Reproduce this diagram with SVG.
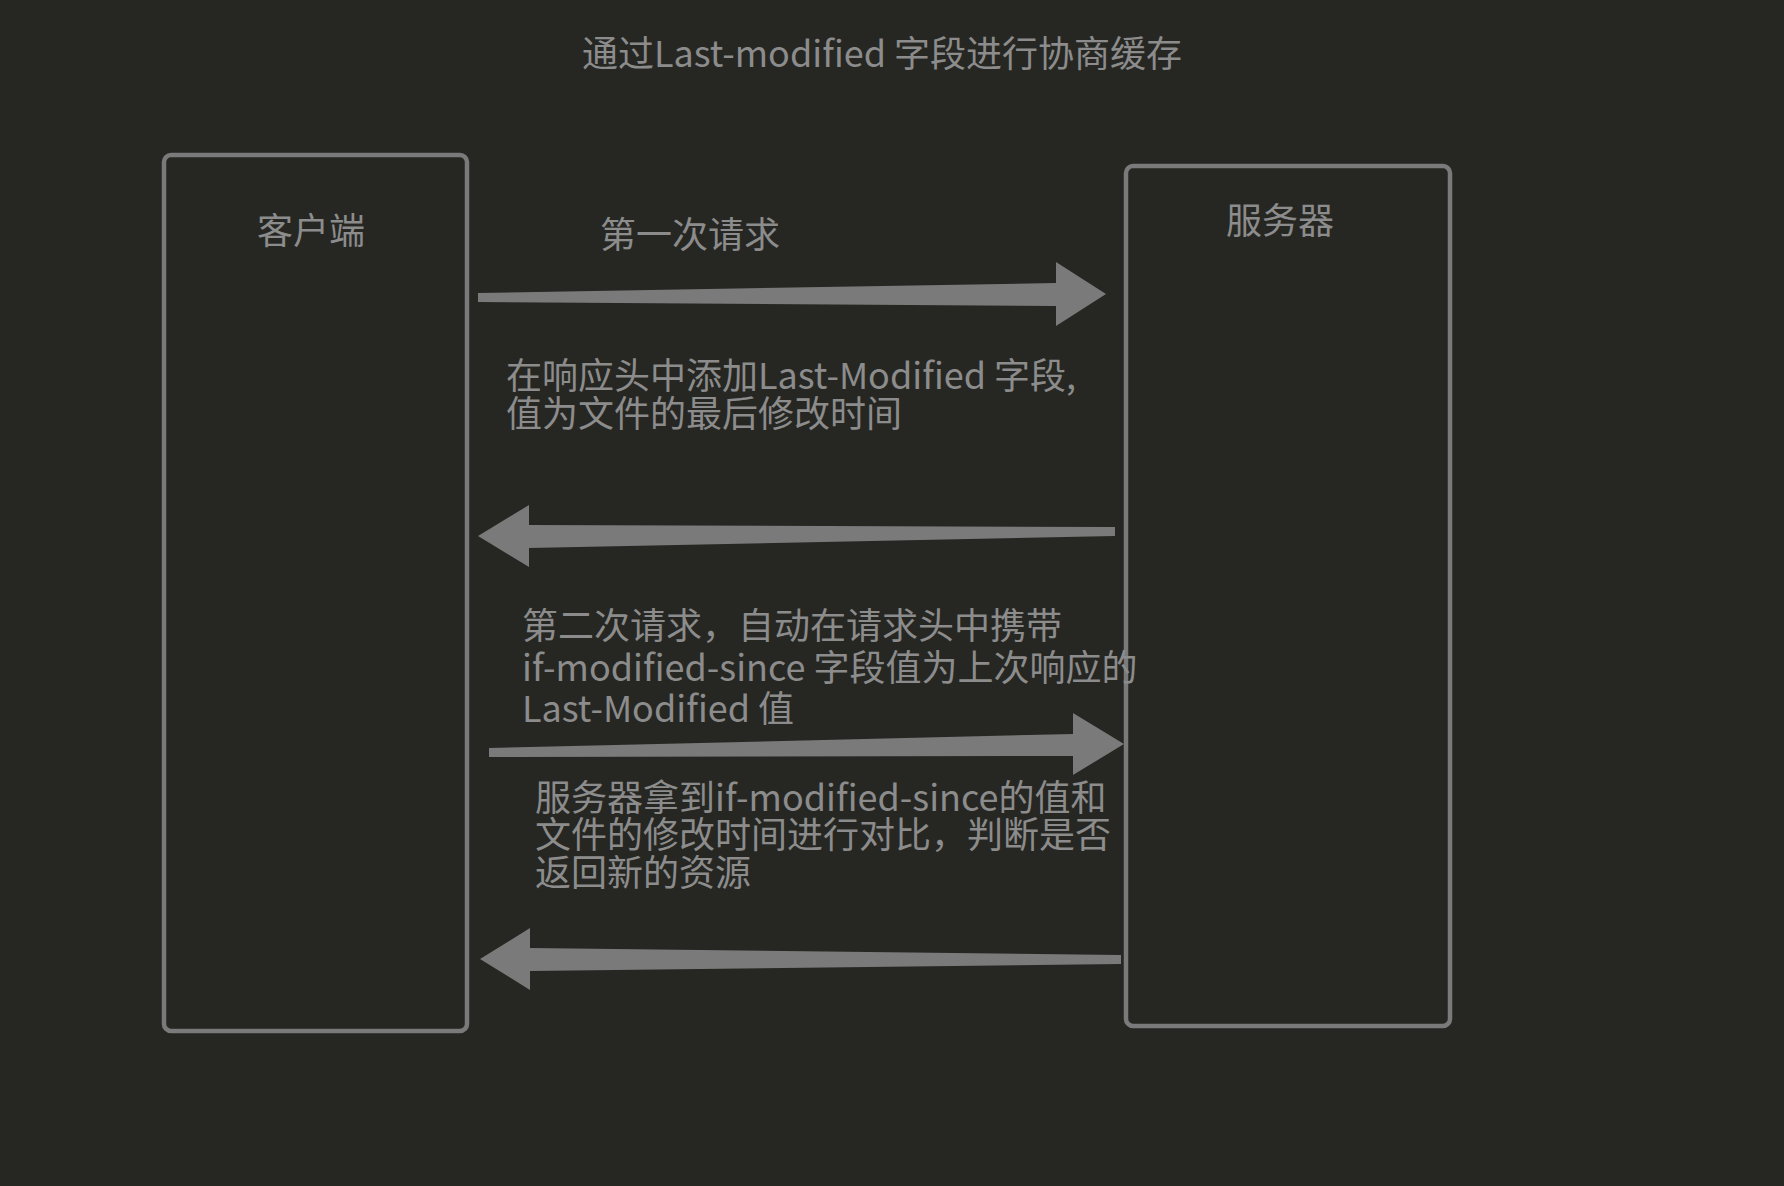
<svg xmlns="http://www.w3.org/2000/svg" width="1784" height="1186" viewBox="0 0 1784 1186">
<style>
.t{font-family:"Noto Sans CJK SC","Noto Sans",sans-serif;font-size:36px;fill:#8c8c8c}
.box{fill:none;stroke:#7a7a7a;stroke-width:4.5}
.arr{fill:#7a7a7a}
</style>
<rect width="1784" height="1186" fill="#262723"/>
<text class="t" x="882" y="67" text-anchor="middle">通过Last-modified 字段进行协商缓存</text>
<g id="client"><rect class="box" x="164" y="155" width="303" height="876" rx="7"/><text class="t" x="311" y="244" text-anchor="middle">客户端</text></g>
<g id="server"><rect class="box" x="1126" y="166" width="324" height="860" rx="7"/><text class="t" x="1280" y="234" text-anchor="middle">服务器</text></g>
<g id="connectors">
<polygon class="arr" points="478,293 1056,283 1056,262 1106,294 1056,326 1056,306 478,302"/>
<polygon class="arr" points="1115,527 529,525 529,505 478,536 529,567 529,548 1115,536"/>
<polygon class="arr" points="489,748 1073,734 1073,713 1124,744 1073,775 1073,756 489,757"/>
<polygon class="arr" points="1121,955 530,948 530,928 480,959 530,990 530,971 1121,964"/>
</g>
<g id="labels">
<text class="t" x="600" y="248">第一次请求</text>
<text class="t" x="506" y="389">在响应头中添加Last-Modified 字段,</text>
<text class="t" x="506" y="427">值为文件的最后修改时间</text>
<text class="t" x="522" y="639">第二次请求，自动在请求头中携带</text>
<text class="t" x="522" y="681">if-modified-since 字段值为上次响应的</text>
<text class="t" x="522" y="722">Last-Modified 值</text>
<text class="t" x="535" y="811">服务器拿到if-modified-since的值和</text>
<text class="t" x="535" y="848">文件的修改时间进行对比，判断是否</text>
<text class="t" x="535" y="886">返回新的资源</text>
</g>
</svg>
